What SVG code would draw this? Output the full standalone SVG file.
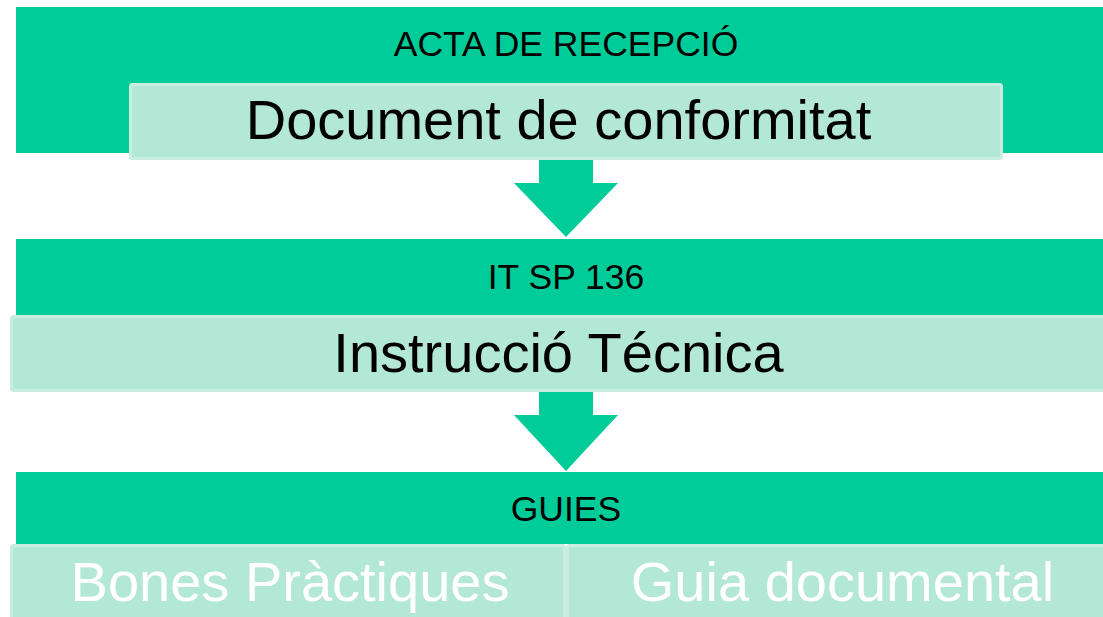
<svg xmlns="http://www.w3.org/2000/svg" width="1103" height="617" viewBox="0 0 1103 617">
<style>
.band{fill:#00CC9A;}
.box{fill:#B4E8D6;stroke:#C8EEE1;stroke-width:3;}
.arrow{fill:#00CC9A;}
.t{font-family:"Liberation Sans",Arial,sans-serif;text-anchor:middle;}
.small{font-size:35.5px;fill:#000;}
.big{font-size:56px;fill:#000;}
.bigw{font-size:56px;fill:#FFFFFF;}
</style>
<rect width="1103" height="617" fill="#FFFFFF"/>
<g id="connectors">
<polygon class="arrow" points="539,155 593,155 593,183 618,183 566,237 514,183 539,183"/>
<polygon class="arrow" points="539,390 593,390 593,415 618,415 566,471 514,415 539,415"/>
</g>
<g id="acta">
<rect class="band" x="16" y="7" width="1095" height="146"/>
<text class="t small" x="566" y="56">ACTA DE RECEPCIÓ</text>
</g>
<g id="document">
<rect class="box" x="130.5" y="84.5" width="871" height="74" rx="2"/>
<text class="t big" x="558.5" y="139">Document de conformitat</text>
</g>
<g id="itsp">
<rect class="band" x="16" y="239" width="1095" height="77"/>
<text class="t small" x="566" y="289">IT SP 136</text>
</g>
<g id="instruccio">
<rect class="box" x="11.5" y="316.5" width="1100" height="74" rx="2"/>
<text class="t big" x="558.5" y="372">Instrucció Técnica</text>
</g>
<g id="guies">
<rect class="band" x="16" y="472" width="1095" height="72"/>
<text class="t small" x="566" y="521">GUIES</text>
</g>
<g id="bones">
<rect class="box" x="11.5" y="545.5" width="553" height="75" rx="2"/>
<text class="t bigw" x="290" y="601">Bones Pràctiques</text>
</g>
<g id="guia">
<rect class="box" x="567.5" y="545.5" width="545" height="75" rx="2"/>
<text class="t bigw" x="842.5" y="601">Guia documental</text>
</g>
</svg>
